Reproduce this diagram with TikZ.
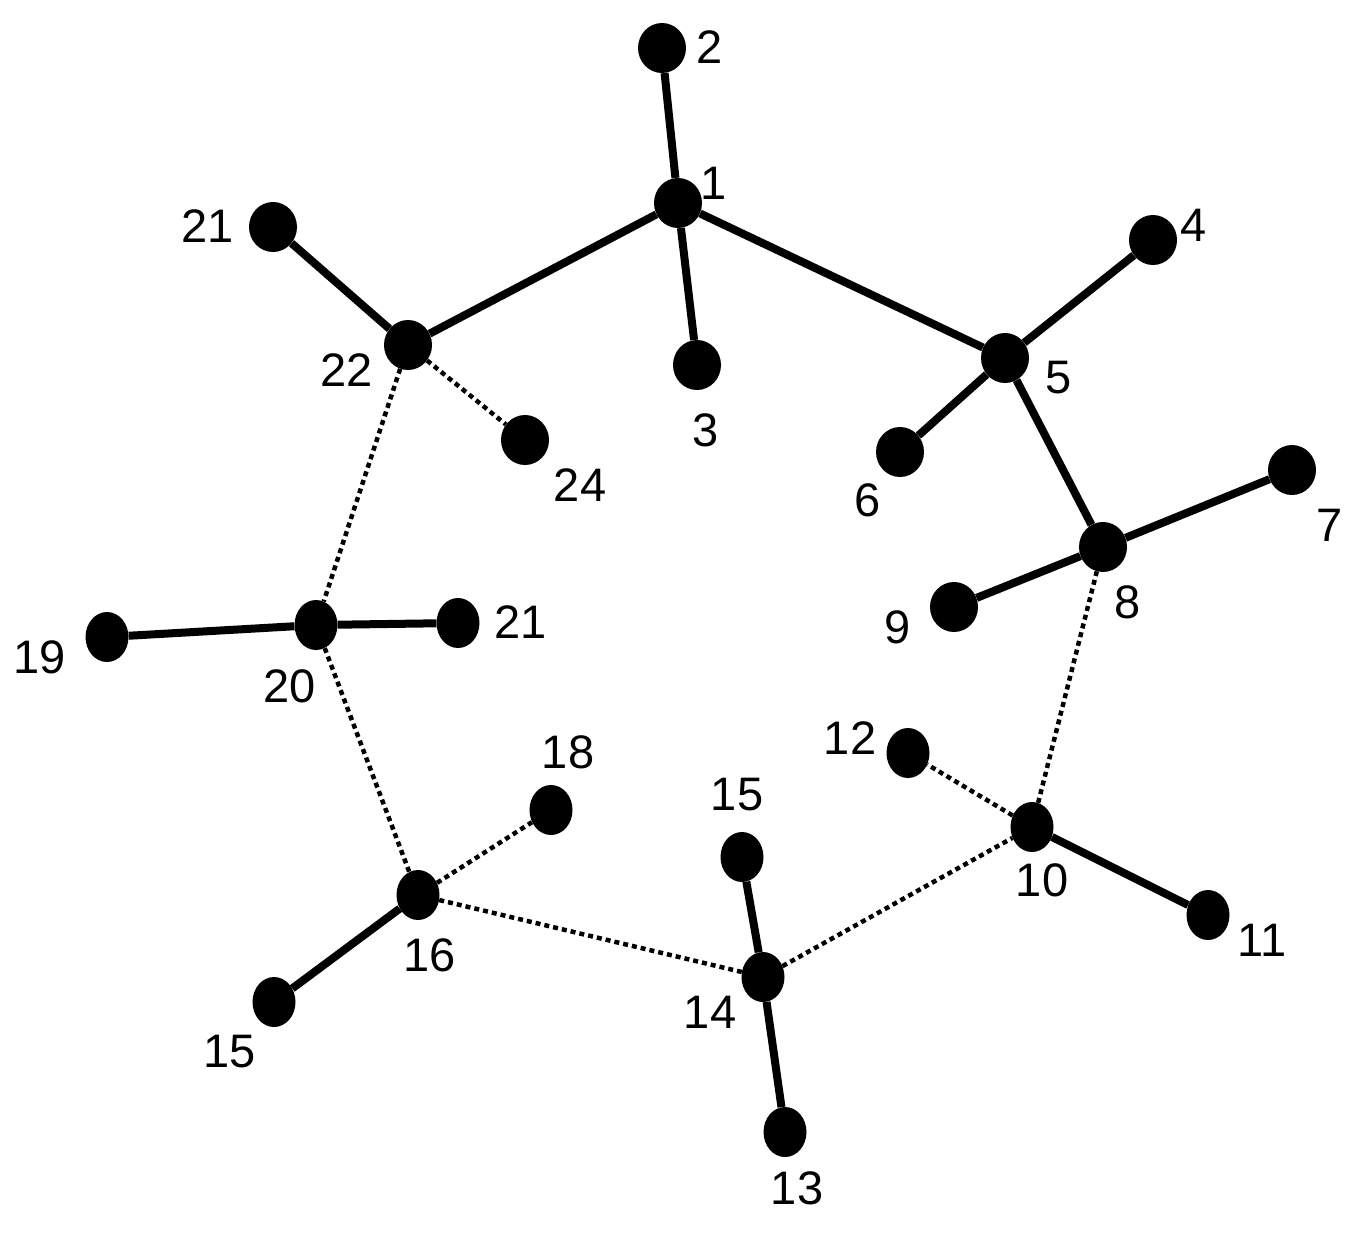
\documentclass[tikz,border=0pt]{standalone}
\usepackage{fontspec}
\setmainfont{Liberation Sans}
\usetikzlibrary{shapes.geometric}
\begin{document}
\begin{tikzpicture}[x=1pt,y=-1pt,
  dot/.style={ellipse,fill=black,inner sep=0pt,minimum width=48pt,minimum height=50pt},
  dotn/.style={dot,minimum width=43pt,minimum height=50pt},
  lab/.style={inner sep=0pt,font=\fontsize{47}{52}\selectfont},
  bond/.style={line width=8pt},
  hbond/.style={line width=4.5pt,dash pattern=on 5pt off 4pt}]
\useasboundingbox (0,0) rectangle (1370,1237);
% atoms
\node[dot] (n2) at (662,48) {};
\node[dot] (n1) at (678,203) {};
\node[dot] (n21a) at (273,227) {};
\node[dot] (n22) at (408,345) {};
\node[dot] (n3) at (697,365) {};
\node[dot] (n24) at (525,440) {};
\node[dot] (n4) at (1153,240) {};
\node[dot] (n5) at (1005,358) {};
\node[dot] (n6) at (900,452) {};
\node[dot] (n7) at (1292,470) {};
\node[dot] (n8) at (1103,547) {};
\node[dot] (n9) at (954,607) {};
\node[dotn] (n19) at (107,637) {};
\node[dotn] (n20) at (316,625) {};
\node[dotn] (n21b) at (458,623) {};
\node[dotn] (n18) at (551,810) {};
\node[dotn] (n12) at (908,753) {};
\node[dotn] (n10) at (1032,827) {};
\node[dotn] (n11) at (1208,915) {};
\node[dotn] (n15a) at (742,857) {};
\node[dotn] (n16) at (418,895) {};
\node[dotn] (n14) at (763,977) {};
\node[dotn] (n15b) at (274,1002) {};
\node[dotn] (n13) at (785,1132) {};
% labels
\node[lab] (l2) at (710,47) {2};
\node[lab] (l1) at (714,183) {1};
\node[lab] (l21a) at (208,226) {21};
\node[lab] (l22) at (347,370) {22};
\node[lab] (l3) at (706,430) {3};
\node[lab] (l24) at (580,485) {24};
\node[lab] (l4) at (1194,225) {4};
\node[lab] (l5) at (1059,378) {5};
\node[lab] (l6) at (868,500) {6};
\node[lab] (l7) at (1330,525) {7};
\node[lab] (l8) at (1128,602) {8};
\node[lab] (l9) at (898,627) {9};
\node[lab] (l19) at (40,657) {19};
\node[lab] (l20) at (290,686) {20};
\node[lab] (l21b) at (521,622) {21};
\node[lab] (l18) at (568,752) {18};
\node[lab] (l12) at (850,738) {12};
\node[lab] (l10) at (1042,880) {10};
\node[lab] (l11) at (1262,940) {11};
\node[lab] (l15a) at (737,795) {15};
\node[lab] (l16) at (430,955) {16};
\node[lab] (l14) at (710,1012) {14};
\node[lab] (l15b) at (230,1052) {15};
\node[lab] (l13) at (797,1188) {13};
% covalent bonds
\draw[bond] (n2) -- (n1);
\draw[bond] (n1) -- (n22);
\draw[bond] (n1) -- (n3);
\draw[bond] (n1) -- (n5);
\draw[bond] (n21a) -- (n22);
\draw[bond] (n5) -- (n4);
\draw[bond] (n5) -- (n6);
\draw[bond] (n5) -- (n8);
\draw[bond] (n8) -- (n7);
\draw[bond] (n8) -- (n9);
\draw[bond] (n19) -- (n20);
\draw[bond] (n20) -- (n21b);
\draw[bond] (n16) -- (n15b);
\draw[bond] (n14) -- (n15a);
\draw[bond] (n14) -- (n13);
\draw[bond] (n10) -- (n11);
% hydrogen bonds
\draw[hbond] (n22) -- (n24);
\draw[hbond] (n22) -- (n20);
\draw[hbond] (n20) -- (n16);
\draw[hbond] (n16) -- (n18);
\draw[hbond] (n16) -- (n14);
\draw[hbond] (n14) -- (n10);
\draw[hbond] (n10) -- (n12);
\draw[hbond] (n10) -- (n8);
\end{tikzpicture}
\end{document}
